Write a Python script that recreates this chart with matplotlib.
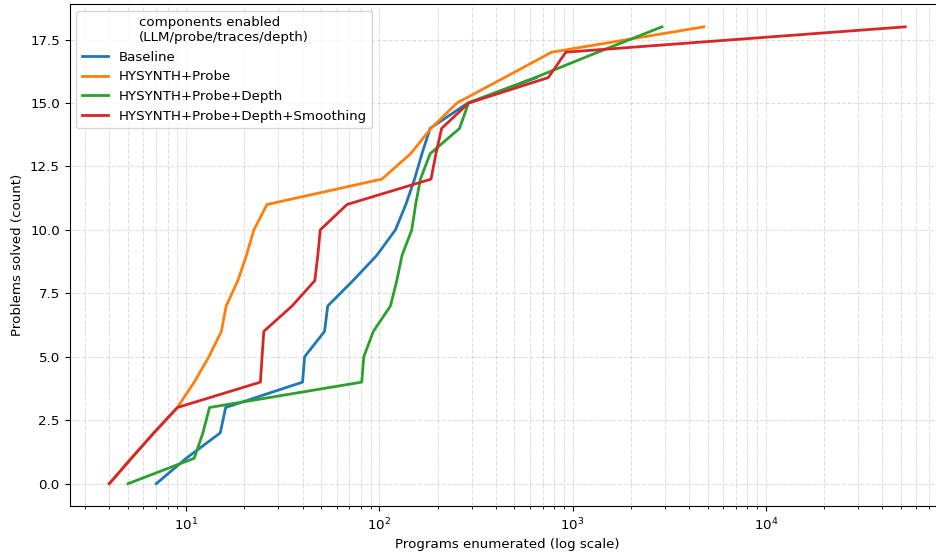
import matplotlib
matplotlib.use("Agg")
import matplotlib.pyplot as plt

plt.rcParams["font.size"] = 9.6

# problems solved (0..n) vs programs enumerated
solved_baseline = list(range(0, 17))
progs_baseline = [7, 10, 15, 16, 40, 41, 52, 54, 73, 97, 121, 137, 152, 166, 183, 287, 650]

solved_probe = list(range(0, 19))
progs_probe = [4, 5.2, 6.8, 9, 11, 13.1, 15.2, 16.1, 18.5, 20.5, 22.4, 26.2,
               103, 145, 185, 252, 444, 778, 4780]

solved_depth = list(range(0, 19))
progs_depth = [5, 11, 12.2, 13.2, 81, 83, 93, 114, 123, 131, 147, 154, 163,
               183, 260, 289, 640, 1350, 2900]

solved_smooth = list(range(0, 19))
progs_smooth = [4, 5.2, 6.8, 9, 24.2, 24.7, 25.2, 35.3, 46.3, 48, 49.4, 68,
                185, 196, 210, 290, 748, 922, 52700]

labels = ["Baseline", "HYSYNTH+Probe", "HYSYNTH+Probe+Depth",
          "HYSYNTH+Probe+Depth+Smoothing"]

fig = plt.figure(figsize=(9.36, 5.53), dpi=100)
ax = fig.add_axes([0.0743, 0.0841, 0.9354, 0.9087])

ax.plot(progs_baseline, solved_baseline, lw=2, label=labels[0])
ax.plot(progs_probe, solved_probe, lw=2, label=labels[1])
ax.plot(progs_depth, solved_depth, lw=2, label=labels[2])
ax.plot(progs_smooth, solved_smooth, lw=2, label=labels[3])

ax.set_xscale("log")
ax.set_xlabel("Programs enumerated (log scale)")
ax.set_ylabel("Problems solved (count)")
ax.grid(True, which="both", linestyle="--", alpha=0.4)
ax.legend(title="components enabled\n(LLM/probe/traces/depth)", loc="upper left")

fig.savefig("out.png", dpi=100)
